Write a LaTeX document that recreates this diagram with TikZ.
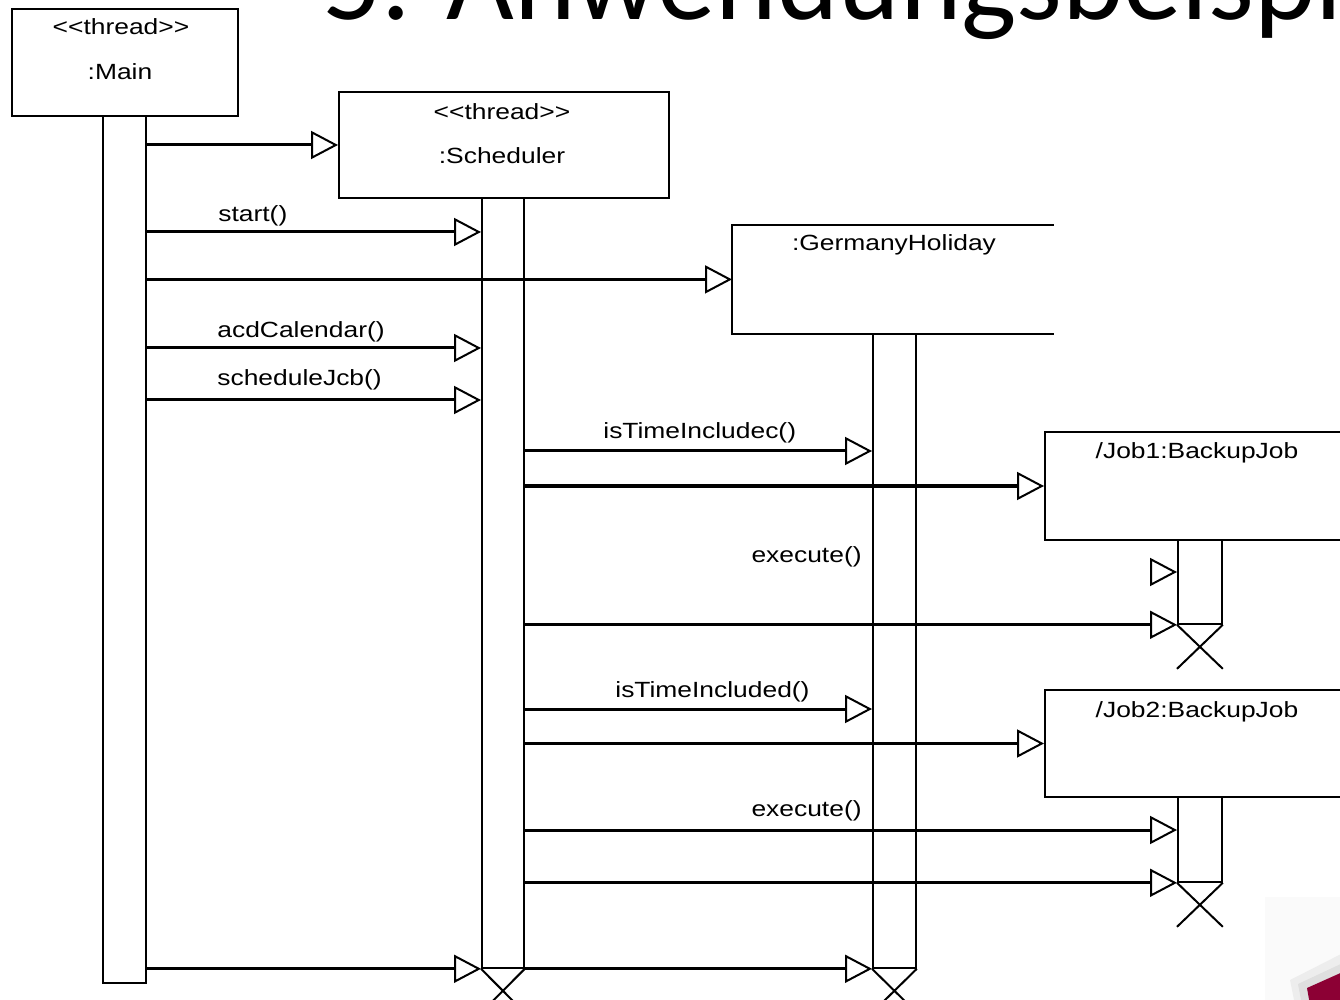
\documentclass[tikz,border=0pt]{standalone}
\usepackage{fontspec}
\setmainfont{Liberation Sans}
\newfontfamily\titlefont{Carlito}
\newfontfamily\pixfont{Liberation Sans}[FakeStretch=1.2]
\usetikzlibrary{arrows.meta,calc}
\definecolor{slidemaroon}{HTML}{8C0034}
\tikzset{
  objbox/.style={draw, line width=1pt, fill=white, inner sep=0pt, anchor=north west},
  openbox/.style={inner sep=0pt, anchor=north west},
  actbar/.style={draw, line width=0.9pt, fill=white, inner sep=0pt, anchor=north west},
  msg/.style={line width=1.5pt, -{Triangle[open, length=13.5pt, width=14pt, line width=1pt]}},
  lbl/.style={font=\pixfont\fontsize{11}{13}\selectfont, inner sep=0pt},
  kill/.style={line width=1pt},
}
\begin{document}
\begin{tikzpicture}[x=0.5pt,y=-0.5pt]
\useasboundingbox (0,0) rectangle (1340,1000);
\clip (0,0) rectangle (1340,1000);
\fill[white] (0,0) rectangle (1340,1000);

% title (cut off by the page edge)
\node[anchor=base west, inner sep=0pt, font=\titlefont\fontsize{58.5}{60}\selectfont] (title) at (322,20) {5. Anwendungsbeispiel};

% bottom-right slide decoration
\fill[gray!4] (1265,897) rectangle (1340,1000);
\fill[black, opacity=0.05] (1290,980) -- (1345,952) -- (1345,1005) -- (1295,1005) -- cycle;
\fill[black, opacity=0.06] (1298,984) -- (1345,962) -- (1345,1005) -- (1302,1005) -- cycle;
\fill[slidemaroon] (1307,988) -- (1345,971) -- (1345,1005) -- (1310,1005) -- cycle;

% activation bars
\node[actbar, minimum width=21.5pt, minimum height=433.5pt] (mainact) at (102,115) {};
\node[actbar, minimum width=21pt, minimum height=385pt] (schact) at (481,197) {};
\node[actbar, minimum width=21.5pt, minimum height=317pt] (holact) at (872,333) {};
\node[actbar, minimum width=22pt, minimum height=42pt] (jact1) at (1177,539) {};
\node[actbar, minimum width=22pt, minimum height=42.5pt] (jact2) at (1177,796) {};

% object boxes
\node[objbox, minimum width=113pt, minimum height=53.5pt] (main) at (11,8) {};
\node[objbox, minimum width=165pt, minimum height=53pt] (sched) at (338,91) {};
\node[openbox, minimum width=160.5pt, minimum height=54pt] (hol) at (732,225) {};
\draw[line width=1pt] (hol.north east) -- (hol.north west) -- (hol.south west) -- (hol.south east);
\node[objbox, minimum width=158pt, minimum height=54pt] (job1) at (1044,431) {};
\node[objbox, minimum width=158pt, minimum height=53.5pt] (job2) at (1044,689) {};

% box texts
\node[lbl] (mainst) at (121,27) {<<thread>>};
\node[lbl] (mainname) at (120,72) {:Main};
\node[lbl] (schst) at (502,112) {<<thread>>};
\node[lbl] (schname) at (502,156) {:Scheduler};
\node[lbl] (holname) at (894,245) {:GermanyHoliday};
\node[lbl] (job1name) at (1197,453) {/Job1:BackupJob};
\node[lbl] (job2name) at (1197,712) {/Job2:BackupJob};

% destruction marks
\draw[kill] (schact.south west) -- ($(schact.south east)+(0,44)$)
            (schact.south east) -- ($(schact.south west)+(0,44)$);
\draw[kill] (holact.south west) -- ($(holact.south east)+(0,44)$)
            (holact.south east) -- ($(holact.south west)+(0,44)$);
\draw[kill] (jact1.south west) -- ($(jact1.south east)+(0,44)$)
            (jact1.south east) -- ($(jact1.south west)+(0,44)$);
\draw[kill] (jact2.south west) -- ($(jact2.south east)+(0,44)$)
            (jact2.south east) -- ($(jact2.south west)+(0,44)$);

% messages
\draw[msg] (mainact.east |- sched.west) -- (sched.west);
\draw[msg] (mainact.east |- 0,232) -- (schact.west |- 0,232);
\draw[msg] (mainact.east |- hol.west) -- (hol.west);
\draw[msg] (mainact.east |- 0,348) -- (schact.west |- 0,348);
\draw[msg] (mainact.east |- 0,400) -- (schact.west |- 0,400);
\draw[msg] (schact.east |- 0,451) -- (holact.west |- 0,451);
\draw[msg] (schact.east |- job1.west) -- (job1.west);
\coordinate (exec1) at (1150,572);
\draw[msg] (exec1) -- (jact1.west |- exec1);
\draw[msg] (schact.east |- jact1.south west) -- (jact1.south west);
\draw[msg] (schact.east |- 0,709) -- (holact.west |- 0,709);
\draw[msg] (schact.east |- job2.west) -- (job2.west);
\draw[msg] (schact.east |- 0,830) -- (jact2.west |- 0,830);
\draw[msg] (schact.east |- jact2.south west) -- (jact2.south west);
\draw[msg] (mainact.east |- schact.south west) -- (schact.south west);
\draw[msg] (schact.south east) -- (holact.south west);

% message labels
\node[lbl, anchor=base west] (lstart) at (218,222) {start()};
\node[lbl, anchor=base west] (ladd) at (217,338) {acdCalendar()};
\node[lbl, anchor=base west] (lsched) at (217,386) {scheduleJcb()};
\node[lbl, anchor=base west] (lti1) at (603,438) {isTimeIncludec()};
\node[lbl, anchor=base east] (lex1) at (862,562) {execute()};
\node[lbl, anchor=base west] (lti2) at (615,697) {isTimeIncluded()};
\node[lbl, anchor=base east] (lex2) at (862,816) {execute()};
\end{tikzpicture}
\end{document}
